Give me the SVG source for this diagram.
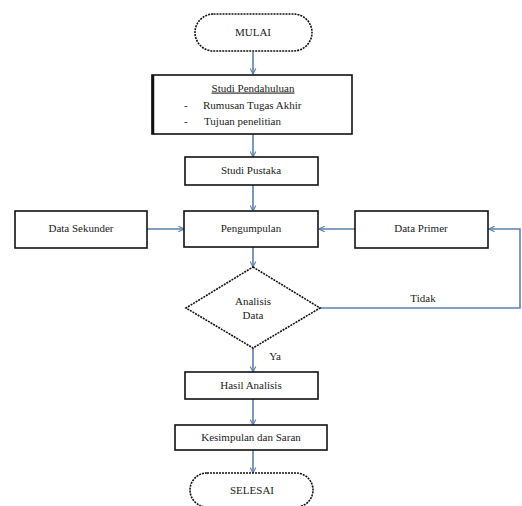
<svg xmlns="http://www.w3.org/2000/svg" width="522" height="506" viewBox="0 0 522 506">
<style>
.box{fill:#fff;stroke:#111;stroke-width:1.6}
.t,.tl{font-family:"Liberation Serif","DejaVu Serif","Times New Roman",serif;font-size:11px;fill:#222;dominant-baseline:middle}
.t{text-anchor:middle}
.c{fill:none;stroke:#5b80ad;stroke-width:1.6}
</style>
<defs>
<marker id="ah" viewBox="0 0 10 10" refX="9" refY="5" markerWidth="7" markerHeight="7" orient="auto" markerUnits="userSpaceOnUse">
<path d="M1,1 L9,5 L1,9" fill="none" stroke="#5b80ad" stroke-width="1.6"/>
</marker>
</defs>
<rect width="522" height="506" fill="#fff"/>
<g id="connectors">
<line class="c" x1="253" y1="52" x2="253" y2="74" marker-end="url(#ah)"/>
<line class="c" x1="253" y1="134" x2="253" y2="157" marker-end="url(#ah)"/>
<line class="c" x1="253" y1="185" x2="253" y2="211" marker-end="url(#ah)"/>
<line class="c" x1="147" y1="229" x2="184" y2="229" marker-end="url(#ah)"/>
<line class="c" x1="355" y1="229" x2="319" y2="229" marker-end="url(#ah)"/>
<polyline class="c" points="320,308 520,308 520,229 489,229" marker-end="url(#ah)"/>
<line class="c" x1="253" y1="247" x2="253" y2="267" marker-end="url(#ah)"/>
<line class="c" x1="253" y1="348" x2="253" y2="372" marker-end="url(#ah)"/>
<line class="c" x1="253" y1="399" x2="253" y2="425" marker-end="url(#ah)"/>
<line class="c" x1="253" y1="450" x2="253" y2="473" marker-end="url(#ah)"/>
<text class="t" x="423" y="299">Tidak</text>
<text class="t" x="275" y="357">Ya</text>
</g>
<g id="mulai">
<rect class="box" x="195" y="14" width="117" height="37" rx="18.5" stroke-dasharray="2 1"/>
<text class="t" x="253" y="33">MULAI</text>
</g>
<g id="studi-pendahuluan">
<rect class="box" x="152" y="75" width="200" height="59"/>
<line x1="153" y1="75" x2="153" y2="134" stroke="#111" stroke-width="2.5"/>
<text class="t" x="253" y="89" text-decoration="underline">Studi Pendahuluan</text>
<text class="tl" x="184" y="106">-</text>
<text class="tl" x="203" y="106">Rumusan Tugas Akhir</text>
<text class="tl" x="184" y="122">-</text>
<text class="tl" x="204" y="122">Tujuan penelitian</text>
</g>
<g id="studi-pustaka">
<rect class="box" x="185" y="157" width="133" height="28"/>
<text class="t" x="251" y="171">Studi Pustaka</text>
</g>
<g id="pengumpulan">
<rect class="box" x="184" y="211" width="134" height="36"/>
<text class="t" x="251" y="229">Pengumpulan</text>
</g>
<g id="data-sekunder">
<rect class="box" x="15" y="211" width="132" height="37"/>
<text class="t" x="81" y="229">Data Sekunder</text>
</g>
<g id="data-primer">
<rect class="box" x="355" y="211" width="133" height="37"/>
<text class="t" x="421" y="229">Data Primer</text>
</g>
<g id="analisis-data">
<polygon class="box" points="253,267 320,308 253,348 186,308" stroke-dasharray="2 1"/>
<text class="t" x="253" y="302">Analisis</text>
<text class="t" x="253" y="316">Data</text>
</g>
<g id="hasil-analisis">
<rect class="box" x="185" y="372" width="133" height="27"/>
<text class="t" x="251" y="386">Hasil Analisis</text>
</g>
<g id="kesimpulan">
<rect class="box" x="175" y="425" width="152" height="25"/>
<text class="t" x="251" y="438">Kesimpulan dan Saran</text>
</g>
<g id="selesai">
<rect class="box" x="190" y="473" width="123" height="34" rx="17" stroke-dasharray="2 1"/>
<text class="t" x="252" y="491">SELESAI</text>
</g>
</svg>
